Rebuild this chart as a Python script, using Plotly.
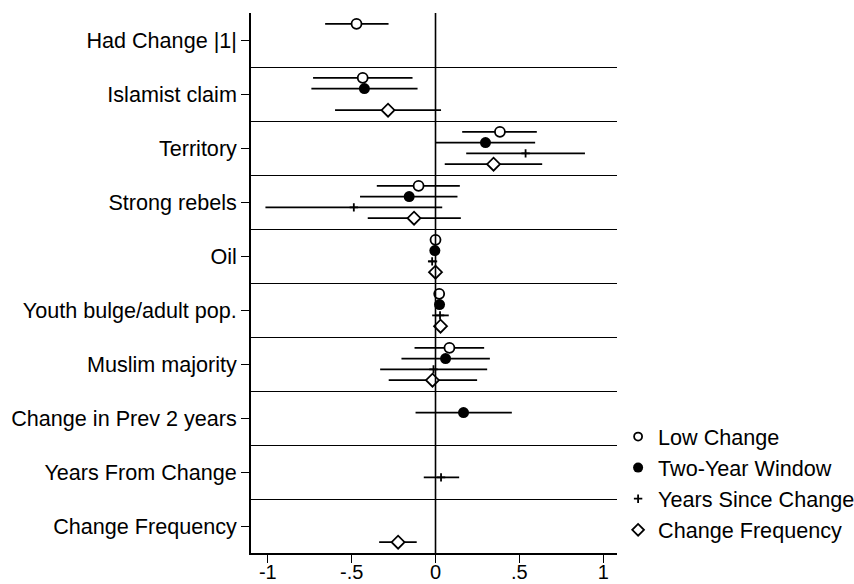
import plotly.graph_objects as go

categories = ["Had Change |1|", "Islamist claim", "Territory", "Strong rebels", "Oil",
              "Youth bulge/adult pop.", "Muslim majority", "Change in Prev 2 years",
              "Years From Change", "Change Frequency"]
series_names = ["Low Change", "Two-Year Window", "Years Since Change", "Change Frequency"]
x_tick_vals = [-1, -0.5, 0, 0.5, 1]
x_tick_text = ["-1", "-.5", "0", ".5", "1"]

# Low Change (hollow circle)
low_est = [-0.471, -0.434, 0.384, -0.101, 0.000, 0.022, 0.083, None, None, None]
low_lo = [-0.658, -0.730, 0.159, -0.350, -0.006, 0.012, -0.125, None, None, None]
low_hi = [-0.280, -0.137, 0.604, 0.145, 0.006, 0.032, 0.290, None, None, None]

# Two-Year Window (filled circle)
two_est = [None, -0.424, 0.298, -0.157, -0.004, 0.024, 0.060, 0.167, None, None]
two_lo = [None, -0.740, 0.000, -0.450, -0.010, 0.014, -0.203, -0.119, None, None]
two_hi = [None, -0.107, 0.594, 0.131, 0.002, 0.034, 0.324, 0.455, None, None]

# Years Since Change (plus)
ys_est = [None, None, 0.537, -0.487, -0.020, 0.027, -0.012, None, 0.033, None]
ys_lo = [None, None, 0.183, -1.014, -0.043, -0.020, -0.330, None, -0.070, None]
ys_hi = [None, None, 0.891, 0.040, 0.010, 0.079, 0.308, None, 0.141, None]

# Change Frequency (hollow diamond)
cf_est = [None, -0.283, 0.346, -0.128, 0.000, 0.030, -0.018, None, None, -0.223]
cf_lo = [None, -0.599, 0.055, -0.404, -0.006, 0.020, -0.279, None, None, -0.336]
cf_hi = [None, 0.033, 0.636, 0.151, 0.006, 0.040, 0.248, None, None, -0.112]

FONT = "Liberation Sans, Arial, Helvetica, sans-serif"
FS = 21.6
n = len(categories)

series = [
    (low_est, low_lo, low_hi, dict(symbol="circle", size=10, color="white", line=dict(color="black", width=1.8)),
     dict(symbol="circle-open", size=8, color="black", line=dict(width=1.8))),
    (two_est, two_lo, two_hi, dict(symbol="circle", size=11, color="black", line=dict(color="black", width=0)),
     dict(symbol="circle", size=10, color="black", line=dict(width=0))),
    (ys_est, ys_lo, ys_hi, dict(symbol="cross-thin", size=6, color="black", line=dict(color="black", width=1.8)),
     dict(symbol="cross-thin", size=6, color="black", line=dict(color="black", width=1.8))),
    (cf_est, cf_lo, cf_hi, dict(symbol="diamond", size=10, color="white", line=dict(color="black", width=1.8)),
     dict(symbol="diamond-open", size=9, color="black", line=dict(width=1.8))),
]

fig = go.Figure()
for k, (est, lo, hi, mk, lmk) in enumerate(series):
    xs, ys, ep, em = [], [], [], []
    for i in range(n):
        if est[i] is None:
            continue
        xs.append(est[i])
        ys.append(i + 0.2 * (k + 1))
        ep.append(hi[i] - est[i])
        em.append(est[i] - lo[i])
    fig.add_trace(go.Scatter(
        x=xs, y=ys, mode="markers", marker=mk, showlegend=False,
        error_x=dict(type="data", array=ep, arrayminus=em, symmetric=False,
                     color="black", thickness=1.8, width=0),
        hoverinfo="x+y", name=series_names[k]))
    fig.add_trace(go.Scatter(
        x=[None], y=[None], mode="markers", marker=lmk, name=series_names[k],
        legendgroup=series_names[k], showlegend=True))

fig.add_shape(type="line", xref="x", yref="paper", x0=0, x1=0, y0=0, y1=1,
              line=dict(color="black", width=1.6), layer="above")

fig.update_layout(
    template="none",
    width=854, height=584,
    margin=dict(l=251, r=237, t=13, b=31, autoexpand=False),
    plot_bgcolor="white", paper_bgcolor="white",
    font=dict(family=FONT, size=FS, color="black"),
    showlegend=True,
    legend=dict(x=1.003, xanchor="left", y=0.2537, yanchor="top",
                bgcolor="rgba(0,0,0,0)", borderwidth=0,
                font=dict(family=FONT, size=FS, color="black"),
                tracegroupgap=0, itemwidth=30),
    xaxis=dict(range=[-1.1, 1.082], tickmode="array", tickvals=x_tick_vals, ticktext=x_tick_text,
               showline=True, linecolor="black", linewidth=1.6, ticks="outside", ticklen=8,
               tickwidth=1.3, tickcolor="black", showgrid=False, zeroline=False, automargin=False,
               tickfont=dict(family=FONT, size=20, color="black"),
               ticklabelstandoff=-8),
    yaxis=dict(range=[n, 0], tickmode="array", tickvals=[i + 0.5 for i in range(n)],
               ticktext=categories, showline=True, linecolor="black", linewidth=1.6,
               ticks="outside", ticklen=8, tickwidth=1.3, tickcolor="black",
               showgrid=False, zeroline=False, automargin=False,
               minor=dict(tickmode="array", tickvals=list(range(1, n)), showgrid=True,
                          gridcolor="black", gridwidth=1.3, ticks="")),
)

fig.write_html("out.html")
